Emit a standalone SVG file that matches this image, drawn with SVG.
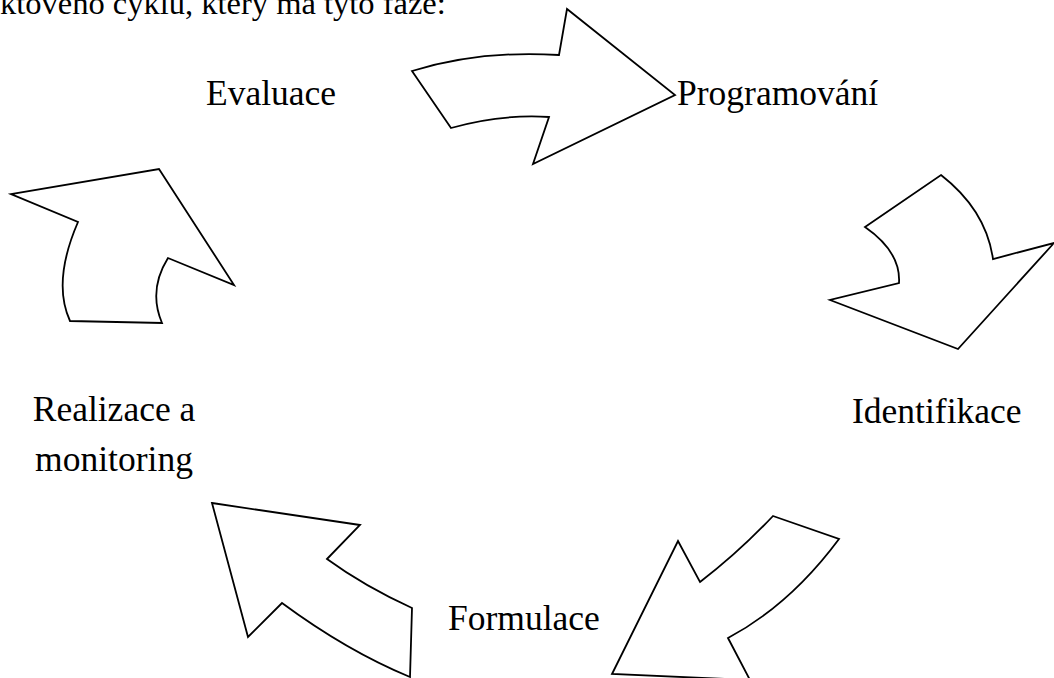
<svg xmlns="http://www.w3.org/2000/svg" width="1054" height="678" viewBox="0 0 1054 678">
<style>
.arrow{fill:#ffffff;stroke:#000000;stroke-width:1.8;stroke-linejoin:miter}
.lbl{font-family:"Liberation Serif","Times New Roman",serif;font-size:35.5px;fill:#000000}
.body{font-family:"Liberation Serif","Times New Roman",serif;font-size:32.5px;fill:#000000}
</style>
<rect width="1054" height="678" fill="#ffffff"/>
<text class="body" x="0" y="13.5">ktového cyklu, který má tyto fáze:</text>
<g id="connectors">
<path id="arrow-top" class="arrow" d="M412,71 Q480,50 559,55 L567,9 L675,95 L533,164 L549,117 Q500,114 451,128 Z"/>
<path id="arrow-right" class="arrow" d="M941,175 Q986,210 993,259 L1054,243 L958,349 L830,300 L899,283 Q901,252 865,227 Z"/>
<path id="arrow-bottom-right" class="arrow" d="M773,516 L839,539 Q790,605 728,638 L750,680 L612,674 L678,541 L700,582 Q738,553 773,516 Z"/>
<path id="arrow-bottom-left" class="arrow" d="M212,503 L360,525 L327,559 Q364,586 412,608 L410,677 Q347,651 282,603 L248,637 Z"/>
<path id="arrow-left" class="arrow" d="M70,321 L162,323 Q148,290 168,258 L234,285 L159,169 L11,194 L78,222 Q52,282 70,321 Z"/>
</g>
<g id="node-evaluace"><text class="lbl" x="206" y="105">Evaluace</text></g>
<g id="node-programovani"><text class="lbl" x="677" y="105">Programování</text></g>
<g id="node-identifikace"><text class="lbl" x="852" y="423">Identifikace</text></g>
<g id="node-formulace"><text class="lbl" x="448" y="630">Formulace</text></g>
<g id="node-realizace"><text class="lbl" text-anchor="middle" x="114" y="421">Realizace a</text><text class="lbl" text-anchor="middle" x="114" y="471">monitoring</text></g>
</svg>
